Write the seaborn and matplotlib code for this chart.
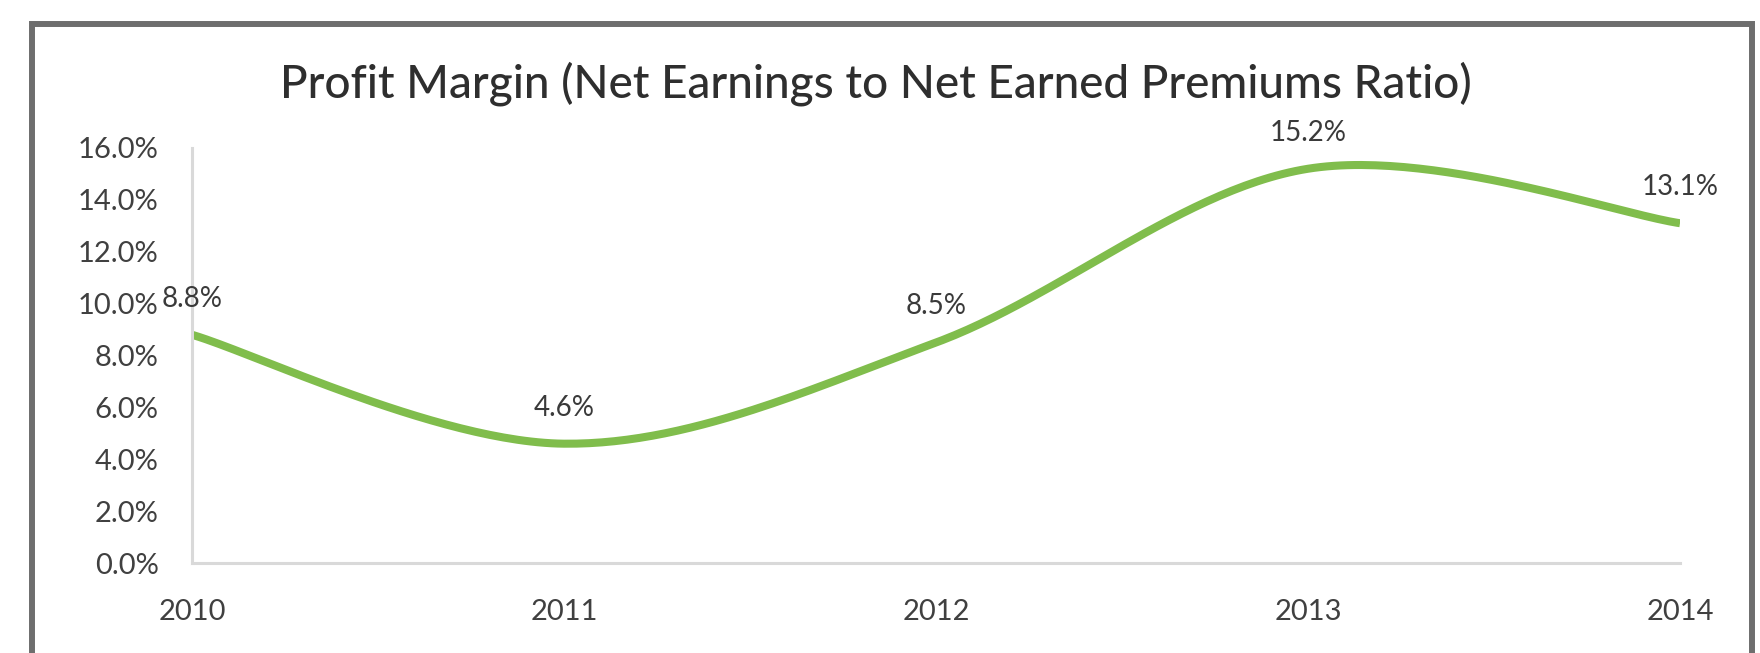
import numpy as np
import pandas as pd
import matplotlib
matplotlib.use("Agg")
import matplotlib.pyplot as plt
from matplotlib.patches import Rectangle
import seaborn as sns

# Chart data
years = ["2010", "2011", "2012", "2013", "2014"]
margin_pct = [8.8, 4.6, 8.5, 15.2, 13.1]
y_ticks = [0, 2, 4, 6, 8, 10, 12, 14, 16]
title = "Profit Margin (Net Earnings to Net Earned Premiums Ratio)"

sns.set_theme(style="white")
plt.rcParams["font.family"] = ["Lato", "DejaVu Sans"]

W, H, DPI = 1760, 653, 100
fig = plt.figure(figsize=(W / DPI, H / DPI), dpi=DPI, facecolor="white")
ax = fig.add_axes([192 / W, 1 - 563 / H, (1680 - 192) / W, (563 - 148) / H])


def smooth_curve(xs, ys, steps=60):
    """Cubic Bezier smoothing through every point (spreadsheet-style smoothed line)."""
    xs = np.asarray(xs, float)
    ys = np.asarray(ys, float)
    n = len(xs)
    px = np.concatenate([[xs[0]], xs, [xs[-1]]])
    py = np.concatenate([[ys[0]], ys, [ys[-1]]])
    out_x, out_y = [], []
    t = np.linspace(0, 1, steps)
    for i in range(n - 1):
        p0 = np.array([px[i + 1], py[i + 1]])
        p3 = np.array([px[i + 2], py[i + 2]])
        c1 = p0 + (p3 - np.array([px[i], py[i]])) / 6.0
        c2 = p3 - (np.array([px[i + 3], py[i + 3]]) - p0) / 6.0
        b = ((1 - t) ** 3)[:, None] * p0 + (3 * (1 - t) ** 2 * t)[:, None] * c1 \
            + (3 * (1 - t) * t ** 2)[:, None] * c2 + (t ** 3)[:, None] * p3
        if i > 0:
            b = b[1:]
        out_x.append(b[:, 0])
        out_y.append(b[:, 1])
    return np.concatenate(out_x), np.concatenate(out_y)


xpos = np.arange(len(years))
cx, cy = smooth_curve(xpos, margin_pct)
curve = pd.DataFrame({"pos": cx, "margin": cy})

sns.lineplot(data=curve, x="pos", y="margin", ax=ax, color="#80bd4c",
             linewidth=5.8, sort=False, legend=False, solid_capstyle="butt")

# Data labels above each point
for xi, v in zip(xpos, margin_pct):
    ax.annotate(f"{v:.1f}%", xy=(xi, v), xytext=(0, 26), textcoords="offset points",
                ha="center", va="center", fontsize=20, color="#3a3a3a")

ax.set_xlim(xpos[0], xpos[-1])
ax.set_ylim(0, 16)
ax.set_xticks(xpos)
ax.set_xticklabels(years)
ax.set_yticks(y_ticks)
ax.set_yticklabels([f"{t:.1f}%" for t in y_ticks])
ax.set_xlabel("")
ax.set_ylabel("")
ax.tick_params(axis="both", length=0, labelsize=21, labelcolor="#404040")
ax.tick_params(axis="x", pad=26)
ax.tick_params(axis="y", pad=24)
ax.grid(False)
for side in ["top", "right"]:
    ax.spines[side].set_visible(False)
for side in ["left", "bottom"]:
    ax.spines[side].set_color("#d9d9d9")
    ax.spines[side].set_linewidth(2.2)

fig.text(876 / W, 1 - 97 / H, title, ha="center", va="baseline",
         fontsize=33, color="#2e2e2e", fontweight="medium")

# Outer chart frame
frame = Rectangle((32 / W, -0.2), (1752 - 32) / W, 1 - 24 / H + 0.2,
                  transform=fig.transFigure, fill=False, edgecolor="#6e6e6e",
                  linewidth=4.3, zorder=10)
fig.patches.append(frame)

fig.savefig("out.png", dpi=DPI, facecolor="white")
